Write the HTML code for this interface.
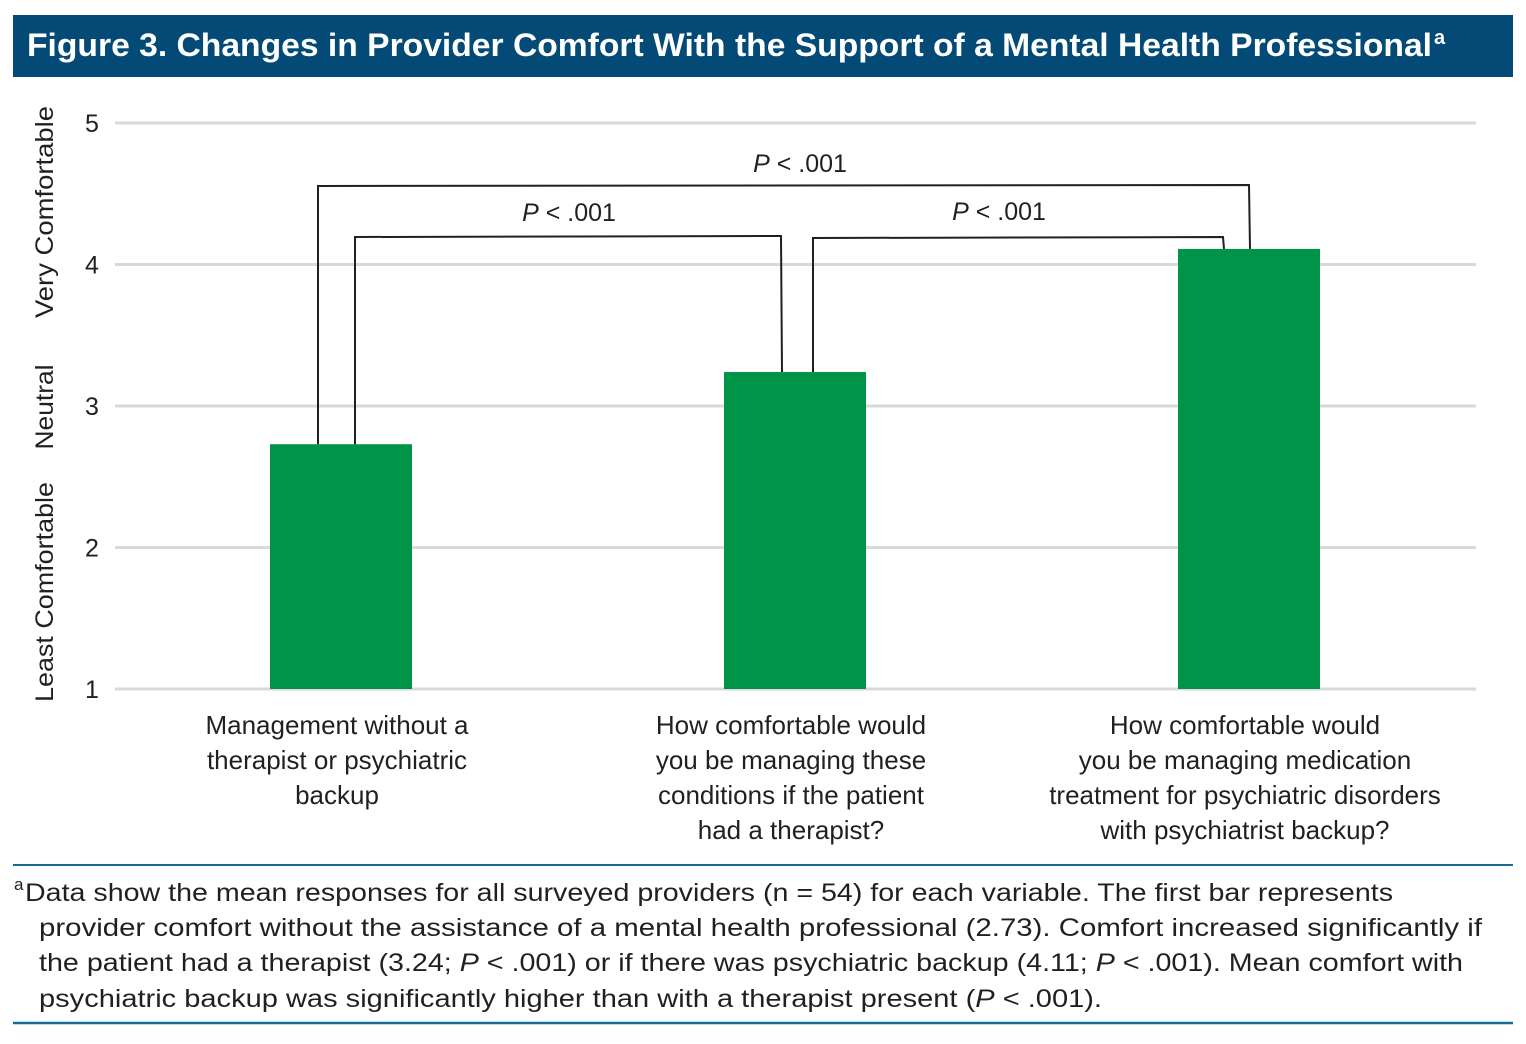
<!DOCTYPE html>
<html><head><meta charset="utf-8"><style>
html,body{margin:0;padding:0;background:#fff;}
svg{display:block;font-family:"Liberation Sans",sans-serif;}
</style></head><body>
<svg id="chart" width="1526" height="1044" viewBox="0 0 1526 1044" xmlns="http://www.w3.org/2000/svg">
<rect x="13" y="15" width="1500" height="62" fill="#034a76"/>
<text x="27" y="56" fill="#fff" font-size="32" font-weight="bold" textLength="1405" lengthAdjust="spacingAndGlyphs">Figure 3. Changes in Provider Comfort With the Support of a Mental Health Professional</text>
<text x="1434" y="44" fill="#fff" font-size="20" font-weight="bold">a</text>
<g id="grid"></g><g id="bars"></g><g id="brackets"></g><g id="xlabels"></g>
<g font-size="25" fill="#231f20">
<text transform="translate(53,212) rotate(-90)" text-anchor="middle" textLength="212" lengthAdjust="spacingAndGlyphs">Very Comfortable</text>
<text transform="translate(53,407) rotate(-90)" text-anchor="middle" textLength="85" lengthAdjust="spacingAndGlyphs">Neutral</text>
<text transform="translate(53,592) rotate(-90)" text-anchor="middle" textLength="220" lengthAdjust="spacingAndGlyphs">Least Comfortable</text>
</g>
<line x1="13" y1="865" x2="1513" y2="865" stroke="#1a6a96" stroke-width="2"/>
<line x1="13" y1="1023" x2="1513" y2="1023" stroke="#1a6a96" stroke-width="2.5"/>
<g font-size="25" fill="#231f20">
<text x="14" y="890" font-size="17">a</text>
<text x="25" y="901" textLength="1368" lengthAdjust="spacingAndGlyphs">Data show the mean responses for all surveyed providers (n = 54) for each variable. The first bar represents</text>
<text x="39" y="936" textLength="1443" lengthAdjust="spacingAndGlyphs">provider comfort without the assistance of a mental health professional (2.73). Comfort increased significantly if</text>
<text x="39" y="971" textLength="1424" lengthAdjust="spacingAndGlyphs">the patient had a therapist (3.24; <tspan font-style="italic">P</tspan> &lt; .001) or if there was psychiatric backup (4.11; <tspan font-style="italic">P</tspan> &lt; .001). Mean comfort with</text>
<text x="39" y="1007" textLength="1063" lengthAdjust="spacingAndGlyphs">psychiatric backup was significantly higher than with a therapist present (<tspan font-style="italic">P</tspan> &lt; .001).</text>
</g>
</svg>
<script>
const categories = ["Management without a therapist or psychiatric backup","How comfortable would you be managing these conditions if the patient had a therapist?","How comfortable would you be managing medication treatment for psychiatric disorders with psychiatrist backup?"];
const labelLines = [["Management without a","therapist or psychiatric","backup"],["How comfortable would","you be managing these","conditions if the patient","had a therapist?"],["How comfortable would","you be managing medication","treatment for psychiatric disorders","with psychiatrist backup?"]];
const values = [2.73, 3.24, 4.11];
const yTicks = [1, 2, 3, 4, 5];
const comparisons = [[0, 2, "P < .001"], [0, 1, "P < .001"], [1, 2, "P < .001"]];

const NS = "http://www.w3.org/2000/svg";
const y = v => 689 - (v - 1) * 141.5;
const xc = i => 341 + i * 454;
const bw = 142;
function mk(tag, attrs, parent) { const e = document.createElementNS(NS, tag); for (const k in attrs) e.setAttribute(k, attrs[k]); parent.appendChild(e); return e; }
const grid = document.getElementById('grid'), bars = document.getElementById('bars'), br = document.getElementById('brackets'), xl = document.getElementById('xlabels');
yTicks.forEach(t => {
  const l = mk('line', {x1:115, x2:1476, y1:y(t), y2:y(t), stroke:'#d9d9d9', 'stroke-width':3}, grid);
  
  
  const tx = mk('text', {x:92, y:y(t)+9, 'text-anchor':'middle', 'font-size':25, fill:'#231f20'}, grid);
  tx.textContent = t;
  
  
});
values.forEach((v, i) => {
  const r = mk('rect', {x:xc(i)-bw/2, y:y(v), width:bw, height:y(1)-y(v), fill:'#009448'}, bars);
  
  
  const t = mk('text', {'text-anchor':'middle', 'font-size':26, fill:'#231f20'}, xl);
  
  
  labelLines[i].forEach((s, j) => { const ts = mk('tspan', {x:xc(i)-4, y:734+j*35}, t); ts.textContent = s; });
});
const brSpec = [{a:-23, b:0, top:186, ty:172, lx:800}, {a:14, b:-14, top:237, ty:221, lx:569}, {a:18, b:-26, top:238, ty:220, lx:999}];
comparisons.forEach((c, k) => {
  const s = brSpec[k];
  const x1 = xc(c[0]) + s.a, x2 = xc(c[1]) + s.b;
  const p = mk('path', {d:`M${x1},${y(values[c[0]])} L${x1},${s.top} L${x2},${s.top-1} L${x2+1},${y(values[c[1]])}`, fill:'none', stroke:'#231f20', 'stroke-width':2}, br);
  
  
  const t = mk('text', {x:s.lx, y:s.ty, 'text-anchor':'middle', 'font-size':25, fill:'#231f20'}, br);
  
  
  const it = mk('tspan', {'font-style':'italic'}, t); it.textContent = c[2].slice(0,1);
  const rest = mk('tspan', {}, t); rest.textContent = c[2].slice(1);
});
</script>
</body></html>
